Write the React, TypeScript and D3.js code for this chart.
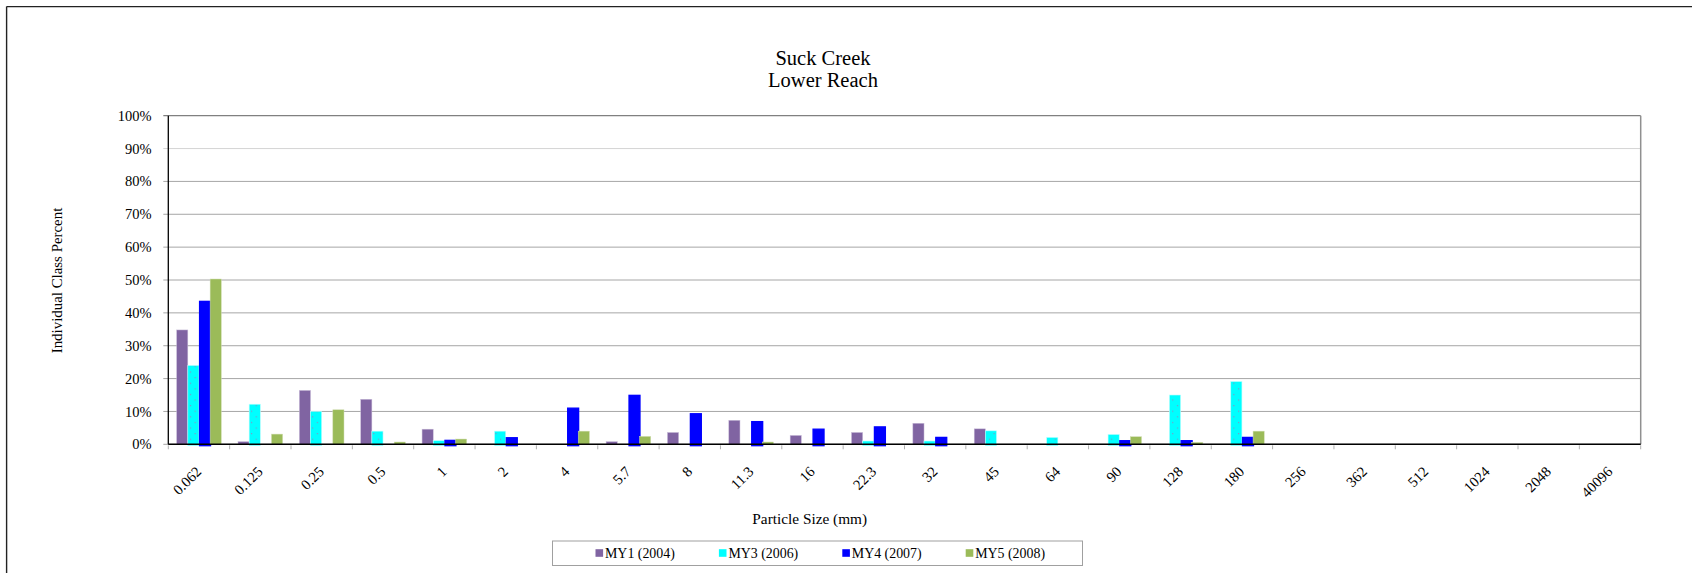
import React from "react";
import * as d3 from "d3";

const categories = ["0.062", "0.125", "0.25", "0.5", "1", "2", "4", "5.7", "8", "11.3", "16", "22.3", "32", "45", "64", "90", "128", "180", "256", "362", "512", "1024", "2048", "40096"];
const seriesNames = ["MY1 (2004)", "MY3 (2006)", "MY4 (2007)", "MY5 (2008)"];
const seriesColors = ["#8064A2", "#00FFFF", "#0000FF", "#9BBB59"];
const my1 = [34.8, 0.8, 16.4, 13.7, 4.6, 0, 0, 0.8, 3.6, 7.3, 2.7, 3.6, 6.4, 4.7, 0, 0, 0, 0, 0, 0, 0, 0, 0, 0];
const my3 = [24.0, 12.2, 10.0, 4.0, 1.1, 4.0, 0, 0, 0, 0, 0, 1.0, 1.0, 4.1, 2.1, 3.0, 15.0, 19.1, 0, 0, 0, 0, 0, 0];
const my4 = [43.5, 0, 0, 0, 1.2, 2.0, 11.0, 14.9, 9.3, 6.9, 4.6, 5.3, 2.1, 0, 0, 1.1, 1.1, 2.1, 0, 0, 0, 0, 0, 0];
const my5 = [50.3, 3.1, 10.5, 0.7, 1.6, 0, 4.0, 2.4, 0, 0.7, 0, 0, 0, 0, 0, 2.3, 0.6, 4.0, 0, 0, 0, 0, 0, 0];
const seriesValues = [my1, my3, my4, my5];
const yTicks = [0, 10, 20, 30, 40, 50, 60, 70, 80, 90, 100];

const W = 1692;
const H = 573;
const FONT = "'Liberation Serif', 'Times New Roman', serif";

export default function App() {
  const left = 168.3, right = 1640.7, top = 115.7, bottom = 444.3;
  const x = d3.scaleBand<string>().domain(categories).range([left, right]).paddingInner(0).paddingOuter(0);
  const step = x.step();
  const gap = (step * 0.75) / 5.5;
  const xs = d3.scaleBand<string>().domain(seriesNames).range([gap, step - gap]).padding(0);
  const y = d3.scaleLinear().domain([0, 100]).range([bottom, top]);
  const fmt = (v: number) => `${v}%`;

  return (
    <svg width={W} height={H} style={{ position: "absolute", left: 0, top: 0, background: "#fff" }} fontFamily={FONT}>
      <defs>
        <pattern id="dots" patternUnits="userSpaceOnUse" width={9.4} height={11.2}>
          <rect x={0} y={0} width={9.4} height={11.2} fill="#00FFFF" />
          <rect x={2} y={2} width={1} height={1} fill="#b070b0" />
          <rect x={6.7} y={7.6} width={1} height={1} fill="#b070b0" />
        </pattern>
      </defs>
      <rect x={0} y={0} width={W} height={H} fill="#fff" />
      {/* outer frame */}
      <line x1={6.6} y1={6.6} x2={W} y2={6.6} stroke="#222" strokeWidth={1.4} />
      <line x1={6.6} y1={6.6} x2={6.6} y2={H} stroke="#222" strokeWidth={1.4} />

      {/* title */}
      <text x={823} y={64.5} fontSize={20.5} textAnchor="middle" fill="#000">Suck Creek</text>
      <text x={823} y={87.3} fontSize={20.5} textAnchor="middle" fill="#000">Lower Reach</text>

      {/* gridlines */}
      {yTicks.map((t) => (
        <line key={"g" + t} x1={left - 5} x2={right} y1={y(t)} y2={y(t)}
          stroke={t === 90 ? "#d4d4d4" : t === 100 ? "#808080" : "#a6a6a6"} strokeWidth={t === 100 ? 1.3 : 1} />
      ))}
      {yTicks.map((t) => (
        <text key={"yl" + t} x={151.7} y={y(t)} dy="0.35em" fontSize={14.5} textAnchor="end" fill="#000">{fmt(t)}</text>
      ))}
      {/* right border */}
      <line x1={right} x2={right} y1={top} y2={bottom} stroke="#909090" strokeWidth={1.5} />

      {/* bars */}
      {seriesValues.map((vals, si) => (
        <g key={"s" + si}>
          {vals.map((v, ci) => {
            if (v <= 0) return null;
            const bx = (x(categories[ci]) as number) + (xs(seriesNames[si]) as number);
            const bw = xs.bandwidth();
            const by = y(v);
            if (si === 2) {
              return (
                <rect key={ci} x={bx + 0.6} y={by} width={bw - 0.2} height={bottom + 1.4 - by}
                  fill="#0000FF" stroke="#0000FF" strokeWidth={1.3} />
              );
            }
            if (si === 1) {
              return (
                <rect key={ci} x={bx} y={by} width={bw} height={bottom + 1.3 - by}
                  fill="url(#dots)" stroke="#b8ffff" strokeWidth={0.6} />
              );
            }
            return (
              <rect key={ci} x={bx} y={by} width={bw} height={bottom - by}
                fill={seriesColors[si]} stroke={si === 0 ? "#c8bcd8" : "#cfdcb0"} strokeWidth={0.5} />
            );
          })}
        </g>
      ))}

      {/* axes */}
      <line x1={left} x2={left} y1={top} y2={bottom} stroke="#000" strokeWidth={1.3} />
      <line x1={left} x2={right} y1={bottom} y2={bottom} stroke="#000" strokeWidth={1.6} />
      {d3.range(categories.length + 1).map((i) => (
        <line key={"xt" + i} x1={left + i * step} x2={left + i * step} y1={bottom + 1} y2={bottom + 5} stroke="#b0b0b0" strokeWidth={1} />
      ))}
      {categories.map((c) => {
        const cx = (x(c) as number) + step / 2 + 3.3;
        return (
          <text key={"xl" + c} transform={`translate(${cx},472.5) rotate(-45)`} fontSize={14.7} textAnchor="end" fill="#000">{c}</text>
        );
      })}

      {/* axis titles */}
      <text transform={`translate(61.5,280.5) rotate(-90)`} fontSize={14.9} textAnchor="middle" fill="#000">Individual Class Percent</text>
      <text x={809.7} y={524} fontSize={15.3} textAnchor="middle" fill="#000">Particle Size (mm)</text>

      {/* legend */}
      <rect x={552.5} y={541} width={530} height={24.5} fill="#fff" stroke="#a0a0a0" strokeWidth={1} />
      {seriesNames.map((n, i) => {
        const lx = 595.5 + i * 123.4;
        return (
          <g key={"lg" + i}>
            <rect x={lx} y={549.2} width={7.6} height={7.6} fill={seriesColors[i]} />
            <text x={lx + 9.5} y={553} dy="0.35em" fontSize={13.9} fill="#000">{n}</text>
          </g>
        );
      })}
    </svg>
  );
}
